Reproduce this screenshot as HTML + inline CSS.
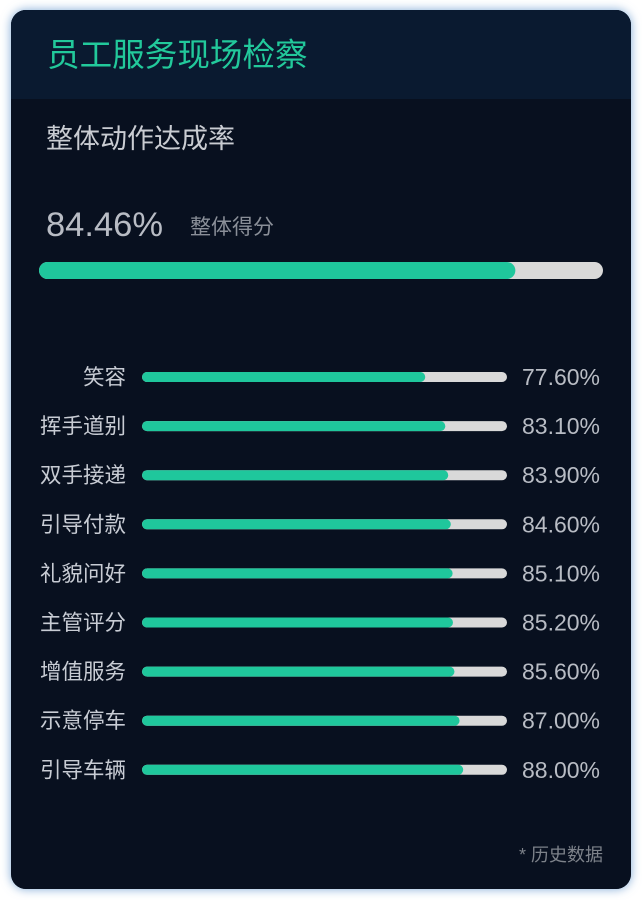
<!DOCTYPE html>
<html><head><meta charset="utf-8"><style>
html,body{margin:0;padding:0;background:#fff;width:642px;height:900px;overflow:hidden}
svg{display:block}
text{font-family:"Liberation Sans","Noto Sans CJK SC",sans-serif}
</style></head><body>
<svg id="chart" width="642" height="900" viewBox="0 0 642 900">
<defs>
<filter id="glow" x="-10%" y="-10%" width="120%" height="120%"><feDropShadow dx="0" dy="0" stdDeviation="5" flood-color="#7fa9d6" flood-opacity="1"/></filter>
<clipPath id="cardclip"><rect x="11" y="10" width="620" height="879" rx="15"/></clipPath>
</defs>
<rect x="11" y="10" width="620" height="879" rx="15" fill="#08101f" filter="url(#glow)"/>
<rect x="11" y="10" width="620" height="879" rx="15" fill="#08101f"/>
<rect x="11" y="10" width="620" height="89" fill="#0a1a30" clip-path="url(#cardclip)"/>
<text x="47" y="66" font-size="32.6" fill="#22c99b">员工服务现场检察</text>
<text x="46" y="148" font-size="27" fill="#c9ccd2">整体动作达成率</text>
<text x="46" y="236" font-size="34.5" fill="#b8bcc4">84.46%</text>
<text x="190" y="234" font-size="21" fill="#8a8f98">整体得分</text>
<rect x="39" y="262" width="564" height="17" rx="8.5" fill="#d9d9d9"/>
<rect id="overallFill" x="39" y="262" width="0" height="17" rx="8.5" fill="#1fc79c"/>
<g id="rows"></g>
<text x="603" y="861" font-size="18" fill="#7d828a" text-anchor="end">* 历史数据</text>
</svg>
<script>
const categories = ["笑容","挥手道别","双手接递","引导付款","礼貌问好","主管评分","增值服务","示意停车","引导车辆"];
const values = [77.6,83.1,83.9,84.6,85.1,85.2,85.6,87.0,88.0];
const overallValue = 84.46;

const ns = "http://www.w3.org/2000/svg";
const trackX = 142, trackW = 365, rowY0 = 377, rowStep = 49.1, barH = 10;
function xScale(v, w){ return w * v / 100; }
function yPos(i){ return rowY0 + i * rowStep; }

const of = document.getElementById('overallFill');
of.setAttribute('width', xScale(overallValue, 564));

const g = document.getElementById('rows');
categories.forEach((c, i) => {
  const y = yPos(i);
  const lab = document.createElementNS(ns, 'text');
  lab.setAttribute('x', 126); lab.setAttribute('y', y + 7.5);
  lab.setAttribute('font-size', '21.5'); lab.setAttribute('fill', '#c8ccd4');
  lab.setAttribute('text-anchor', 'end');
  lab.textContent = c;
  
  
  g.appendChild(lab);

  const tr = document.createElementNS(ns, 'rect');
  tr.setAttribute('x', trackX); tr.setAttribute('y', y - barH/2);
  tr.setAttribute('width', trackW); tr.setAttribute('height', barH);
  tr.setAttribute('rx', barH/2); tr.setAttribute('fill', '#d9d9d9');
  
  
  g.appendChild(tr);

  const b = document.createElementNS(ns, 'rect');
  b.setAttribute('x', trackX); b.setAttribute('y', y - barH/2);
  b.setAttribute('width', xScale(values[i], trackW)); b.setAttribute('height', barH);
  b.setAttribute('rx', barH/2); b.setAttribute('fill', '#1fc79c');
  
  
  g.appendChild(b);

  const vt = document.createElementNS(ns, 'text');
  vt.setAttribute('x', 522); vt.setAttribute('y', y + 8);
  vt.setAttribute('font-size', '23'); vt.setAttribute('fill', '#b8bcc4');
  vt.textContent = values[i].toFixed(2) + '%';
  
  
  g.appendChild(vt);
});
</script>
</body></html>
